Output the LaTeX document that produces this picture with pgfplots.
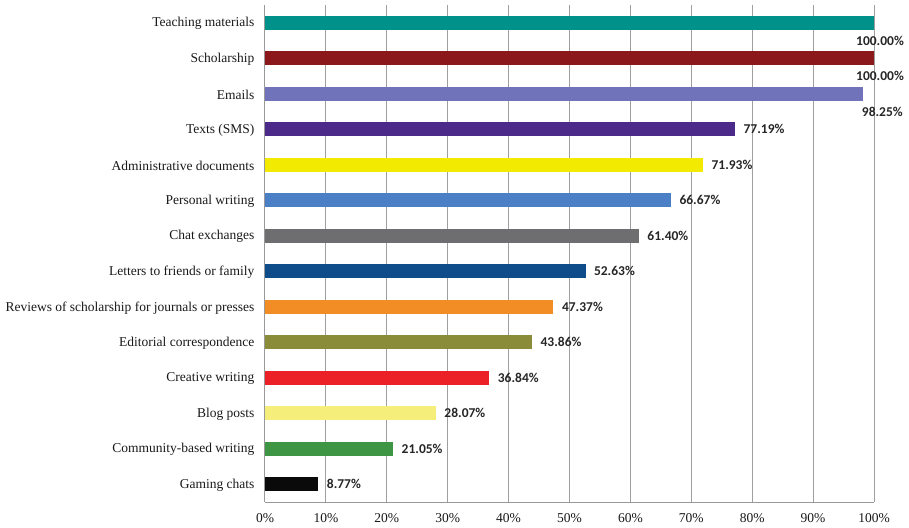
\documentclass[border=0pt]{standalone}
\usepackage{fontspec}
\setmainfont{Liberation Serif}
\newfontfamily\calib{Carlito}
\usepackage{pgfplots}
\pgfplotsset{compat=1.18}
\definecolor{cteach}{RGB}{0,145,138}
\definecolor{cschol}{RGB}{139,24,26}
\definecolor{cemail}{RGB}{112,114,186}
\definecolor{ctext}{RGB}{75,42,138}
\definecolor{cadmin}{RGB}{242,234,0}
\definecolor{cpers}{RGB}{76,128,198}
\definecolor{cchat}{RGB}{110,110,112}
\definecolor{clett}{RGB}{14,76,138}
\definecolor{crev}{RGB}{242,140,36}
\definecolor{cedit}{RGB}{138,140,58}
\definecolor{ccrea}{RGB}{236,32,39}
\definecolor{cblog}{RGB}{245,238,122}
\definecolor{ccomm}{RGB}{62,150,68}
\definecolor{cgame}{RGB}{10,10,10}
\begin{document}
\begin{tikzpicture}
\path[use as bounding box] (-265pt,-25pt) rectangle (644pt,502pt);
\begin{axis}[
  at={(0,0)}, anchor=south west,
  width=609pt, height=497pt, scale only axis,
  xbar, bar width=14pt, bar shift=0pt,
  xmin=0, xmax=100,
  ymin=-0.5, ymax=13.5, y dir=reverse,
  axis lines*=left,
  axis line style={gray!80, line width=1pt},
  major tick length=0pt,
  xmajorgrids, major grid style={gray!75, line width=1pt},
  xtick={0,10,...,100},
  xticklabels={0\%,10\%,20\%,30\%,40\%,50\%,60\%,70\%,80\%,90\%,100\%},
  ytick={0,...,13},
  yticklabels={Teaching materials,Scholarship,Emails,Texts (SMS),Administrative documents,Personal writing,Chat exchanges,Letters to friends or family,Reviews of scholarship for journals or presses,Editorial correspondence,Creative writing,Blog posts,Community-based writing,Gaming chats},
  ticklabel style={font=\fontsize{13.5}{15}\selectfont, text=black!90},
  yticklabel style={xshift=-7pt, yshift=-1pt},
  xticklabel style={yshift=-8pt},
  point meta=explicit symbolic,
  nodes near coords,
  every node near coord/.append style={font=\calib\bfseries\fontsize{13.5}{15}\selectfont, anchor=west, xshift=5pt, text=black!85},
]
\addplot[fill=cteach, draw=none, every node near coord/.append style={anchor=center, xshift=1pt, yshift=-18pt}] coordinates {(100,0) [100.00\%]};
\addplot[fill=cschol, draw=none, every node near coord/.append style={anchor=center, xshift=1pt, yshift=-18pt}] coordinates {(100,1) [100.00\%]};
\addplot[fill=cemail, draw=none, every node near coord/.append style={anchor=center, xshift=14pt, yshift=-18pt}] coordinates {(98.25,2) [98.25\%]};
\addplot[fill=ctext, draw=none] coordinates {(77.19,3) [77.19\%]};
\addplot[fill=cadmin, draw=none] coordinates {(71.93,4) [71.93\%]};
\addplot[fill=cpers, draw=none] coordinates {(66.67,5) [66.67\%]};
\addplot[fill=cchat, draw=none] coordinates {(61.40,6) [61.40\%]};
\addplot[fill=clett, draw=none] coordinates {(52.63,7) [52.63\%]};
\addplot[fill=crev, draw=none] coordinates {(47.37,8) [47.37\%]};
\addplot[fill=cedit, draw=none] coordinates {(43.86,9) [43.86\%]};
\addplot[fill=ccrea, draw=none] coordinates {(36.84,10) [36.84\%]};
\addplot[fill=cblog, draw=none] coordinates {(28.07,11) [28.07\%]};
\addplot[fill=ccomm, draw=none] coordinates {(21.05,12) [21.05\%]};
\addplot[fill=cgame, draw=none] coordinates {(8.77,13) [8.77\%]};
\end{axis}
\end{tikzpicture}
\end{document}
